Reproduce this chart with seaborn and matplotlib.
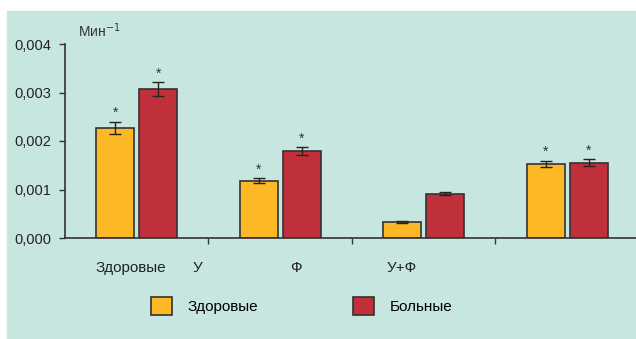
import matplotlib
matplotlib.use('Agg')
import matplotlib.pyplot as plt
import matplotlib.patches as mpatches
from matplotlib.ticker import FuncFormatter
import seaborn as sns
import pandas as pd

# data
groups = ['Здоровые', 'У', 'Ф', 'У+Ф']
group_keys = ['g1', 'g2', 'g3', 'g4']
zdorovye = [0.00227, 0.00118, 0.00033, 0.00153]
zdorovye_err = [0.00013, 0.00005, 0.00003, 0.00006]
bolnye = [0.00307, 0.00179, 0.00091, 0.00155]
bolnye_err = [0.00014, 0.00008, 0.00003, 0.00007]
star_z = [True, True, False, True]
star_b = [True, True, False, True]
series = ['Здоровые', 'Больные']
colors = ['#fdb825', '#c0303a']

plt.rcParams['font.family'] = ['Liberation Sans', 'DejaVu Sans']

df = pd.DataFrame({
    'grp': group_keys * 2,
    'val': zdorovye + bolnye,
    'series': [series[0]] * 4 + [series[1]] * 4,
})

fig = plt.figure(figsize=(6.36, 3.39), dpi=100)
fig.patches.append(mpatches.Rectangle((7 / 636, 0), 1, 1 - 11 / 339, transform=fig.transFigure,
                                      color='#c8e6e0', zorder=-1))
ax = fig.add_axes([65 / 636, 1 - 238 / 339, 1 - 65 / 636, (238 - 44) / 339])
ax.set_facecolor('none')

sns.barplot(data=df, x='grp', y='val', hue='series', palette=colors, width=0.6, gap=0.12,
            saturation=1, edgecolor='#333333', linewidth=1.2, ax=ax, legend=False)

for cont, errs, stars in zip(ax.containers, [zdorovye_err, bolnye_err], [star_z, star_b]):
    for bar, e, s in zip(cont.patches, errs, stars):
        cx = bar.get_x() + bar.get_width() / 2
        h = bar.get_height()
        ax.errorbar(cx, h, yerr=e, color='#222222', capsize=4, elinewidth=1, capthick=1)
        if s:
            ax.text(cx, h + e + 0.00018, '*', ha='center', va='center', fontsize=10, color='#333333')

ax.set_ylim(0, 0.004)
ax.set_xlim(-0.5, 3.48)
ax.set_yticks([0, 0.001, 0.002, 0.003, 0.004])
ax.yaxis.set_major_formatter(FuncFormatter(lambda v, p: f'{v:.3f}'.replace('.', ',')))
ax.set_xticks([0.5, 1.5, 2.5])
ax.set_xticklabels([])
ax.tick_params(axis='both', direction='out', length=4, width=1, color='#333333',
               labelsize=10.5, labelcolor='#222222')
ax.tick_params(axis='y', pad=6)
for sp in ['top', 'right']:
    ax.spines[sp].set_visible(False)
for sp in ['left', 'bottom']:
    ax.spines[sp].set_color('#333333')
    ax.spines[sp].set_linewidth(1.2)
ax.set_xlabel('')
ax.set_ylabel('')

# category labels (placed as in the original)
label_x = [131, 197, 296, 402]
for lab, px in zip(groups, label_x):
    fig.text(px / 636, 1 - 268 / 339, lab, ha='center', va='center', fontsize=11, color='#222222')

fig.text(78 / 636, 1 - 31 / 339, 'Мин$^{-1}$', ha='left', va='center', fontsize=10, color='#333333')

handles = [mpatches.Patch(facecolor=c, edgecolor='#333333', linewidth=1.2) for c in colors]
fig.legend(handles, series, loc='center left', bbox_to_anchor=(137 / 636, 1 - 306 / 339), ncol=2,
           frameon=False, fontsize=11, handlelength=1.4, handleheight=1.45, columnspacing=6.2,
           handletextpad=1.0)

fig.savefig('out.png', dpi=100)
